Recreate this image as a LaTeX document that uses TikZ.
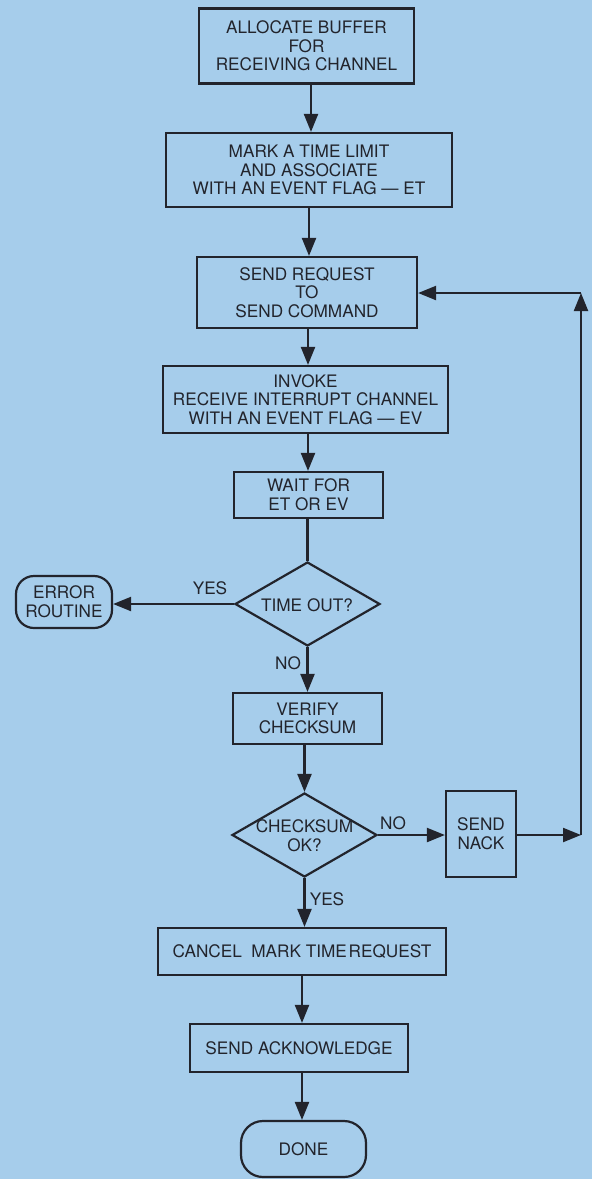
\documentclass[tikz,border=0pt]{standalone}
\usepackage{fontspec}
\setmainfont{TeX Gyre Heros}
\usetikzlibrary{shapes.geometric,arrows.meta}
\definecolor{bg}{RGB}{166,205,235}
\definecolor{ink}{RGB}{34,36,44}
\tikzset{
  every node/.style={font=\fontsize{17.2}{18.7}\selectfont, text=ink},
  box/.style={draw=ink, line width=2.2pt, rectangle, inner sep=0pt, align=center},
  dia/.style={draw=ink, line width=2.2pt, diamond, inner sep=0pt},
  term/.style={draw=ink, line width=2.2pt, rectangle, rounded corners=20pt, inner sep=0pt, align=center},
  lbl/.style={inner sep=0pt},
  arr/.style={draw=ink, line width=2.2pt, -{Triangle[length=18pt,width=14pt]}},
  ln/.style={draw=ink, line width=2.2pt}
}
\begin{document}
\begin{tikzpicture}[x=1pt,y=-1pt]
\fill[bg] (0,0) rectangle (592,1179);
\useasboundingbox (0,0) rectangle (592,1179);

\node[box, minimum width=215pt, minimum height=75pt] (b1) at (306.5,46) {ALLOCATE BUFFER\\FOR\\RECEIVING CHANNEL};
\node[box, minimum width=286pt, minimum height=74pt] (b2) at (309,170) {MARK A TIME LIMIT\\AND ASSOCIATE\\WITH AN EVENT FLAG — ET};
\node[box, minimum width=220pt, minimum height=71pt] (b3) at (307,292.5) {SEND REQUEST\\TO\\SEND COMMAND};
\node[box, minimum width=285pt, minimum height=67pt] (b4) at (305.5,399.5) {INVOKE\\RECEIVE INTERRUPT CHANNEL\\WITH AN EVENT FLAG — EV};
\node[box, minimum width=149pt, minimum height=46pt] (b5) at (308.5,495) {WAIT FOR\\ET OR EV};
\node[dia, minimum width=145pt, minimum height=84pt] (d1) at (307.5,604) {};
\node[lbl] (d1t) at (307,605) {TIME OUT?};
\node[term, rounded corners=18pt, minimum width=96pt, minimum height=52pt] (err) at (64,602) {ERROR\\ROUTINE};
\node[box, minimum width=149pt, minimum height=51pt] (b6) at (307.5,718.5) {VERIFY\\CHECKSUM};
\node[dia, minimum width=145pt, minimum height=84pt] (d2) at (304.5,835) {};
\node[lbl, align=center] (d2t) at (304.5,836) {CHECKSUM\\OK?};
\node[box, minimum width=70pt, minimum height=86pt] (nack) at (481,834) {SEND\\NACK};
\node[box, minimum width=288pt, minimum height=47pt] (b7) at (302,951.5) {CANCEL\hspace{0.55em}MARK TIME\hspace{0.1em}REQUEST};
\node[box, minimum width=218pt, minimum height=48pt] (b8) at (299,1048) {SEND ACKNOWLEDGE};
\node[term, rounded corners=22pt, minimum width=125pt, minimum height=56pt] (done) at (303.5,1149) {DONE};

\coordinate (cb) at (581,835);
\coordinate (ct) at (581,293);

\draw[arr] (b1.south -| 311,0) -- (b2.north -| 311,0);
\draw[arr] (b2.south -| 309,0) -- (b3.north -| 309,0);
\draw[arr] (b3.south -| 308,0) -- (b4.north -| 308,0);
\draw[arr] (b4.south -| 308,0) -- (b5.north -| 308,0);
\draw[ln] (b5.south -| d1.north) -- (d1.north);
\draw[arr] (d1.west) -- (d1.west -| err.east);
\draw[arr] (d1.south) -- (b6.north -| d1.south);
\draw[arr] (b6.south -| d2.north) -- (d2.north);
\draw[arr] (d2.east) -- (nack.west |- d2.east);
\draw[arr] (nack.east |- cb) -- (cb);
\draw[arr] (cb) -- (ct);
\draw[arr] (ct) -- (ct -| b3.east);
\draw[arr] (d2.south) -- (b7.north -| d2.south);
\draw[arr] (b7.south -| 302,0) -- (b8.north -| 302,0);
\draw[arr] (b8.south -| 302,0) -- (done.north -| 302,0);

\node[lbl] (yes1) at (210,588) {YES};
\node[lbl] (no1) at (288,663) {NO};
\node[lbl] (no2) at (393,823) {NO};
\node[lbl] (yes2) at (327,899) {YES};
\end{tikzpicture}
\end{document}
